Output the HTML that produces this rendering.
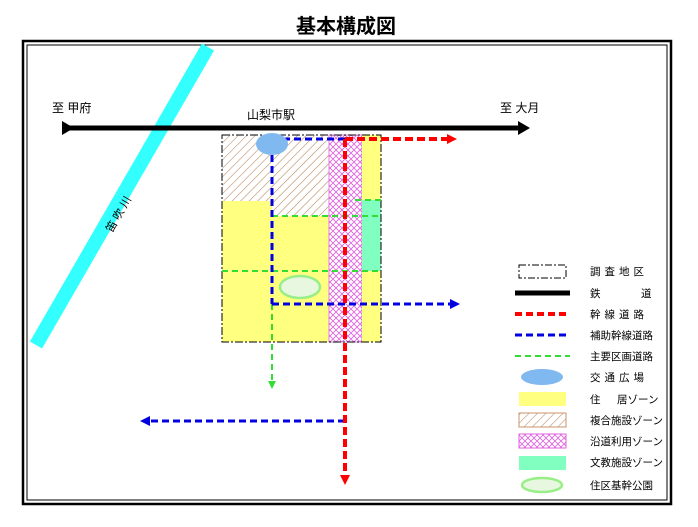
<!DOCTYPE html>
<html><head><meta charset="utf-8"><style>
body{margin:0;background:#fff}
svg text{font-family:"Liberation Sans","Noto Sans CJK JP",sans-serif}
</style></head><body>
<svg width="698" height="522" viewBox="0 0 698 522" xmlns="http://www.w3.org/2000/svg">
<defs>
<pattern id="hatch" width="6" height="6" patternUnits="userSpaceOnUse" patternTransform="rotate(45)">
<rect width="6" height="6" fill="#fff"/><line x1="0" y1="0" x2="0" y2="6" stroke="#b8865e" stroke-width="1.1"/></pattern>
<pattern id="cross" width="6" height="6" patternUnits="userSpaceOnUse">
<rect width="6" height="6" fill="#fff"/><path d="M0 0L6 6M6 0L0 6" stroke="#e060e0" stroke-width="0.8"/></pattern>
<marker id="ar" markerWidth="10" markerHeight="10" refX="5" refY="5" orient="auto" markerUnits="userSpaceOnUse"><path d="M0 0L10 5L0 10z" fill="red"/></marker>
<marker id="ab" markerWidth="10" markerHeight="10" refX="5" refY="5" orient="auto" markerUnits="userSpaceOnUse"><path d="M0 0L10 5L0 10z" fill="#0000e0"/></marker>
<marker id="ag" markerWidth="8" markerHeight="8" refX="4" refY="4" orient="auto" markerUnits="userSpaceOnUse"><path d="M0 0L8 4L0 8z" fill="#33dd33"/></marker>
<marker id="ak" markerWidth="12" markerHeight="14" refX="6" refY="7" orient="auto" markerUnits="userSpaceOnUse"><path d="M0 0L12 7L0 14z" fill="#000"/></marker>
</defs>
<text x="346" y="33" font-size="20" font-weight="bold" text-anchor="middle">基本構成図</text>
<rect x="23" y="41" width="648" height="463" fill="none" stroke="#000" stroke-width="2.5"/>
<rect x="27" y="45" width="640" height="455" fill="none" stroke="#000" stroke-width="1"/>
<line x1="36" y1="345" x2="208" y2="47" stroke="#33ffff" stroke-width="14"/>
<text font-size="11" transform="translate(112,233) rotate(-60)">笛 吹 川</text>
<rect x="222" y="135" width="107" height="66" fill="url(#hatch)"/>
<rect x="272" y="200" width="57" height="16" fill="url(#hatch)"/>
<rect x="222" y="201" width="50" height="141" fill="#ffff80"/>
<rect x="272" y="216" width="57" height="126" fill="#ffff80"/>
<rect x="329" y="135" width="33" height="207" fill="url(#cross)" stroke="#e060e0" stroke-width="0.8"/>
<rect x="362" y="135" width="19" height="65" fill="#ffff80"/>
<rect x="362" y="200" width="19" height="71" fill="#80ffc0"/>
<rect x="362" y="271" width="19" height="71" fill="#ffff80"/>
<rect x="222" y="135" width="159" height="207" fill="none" stroke="#000" stroke-width="1" stroke-dasharray="8,2,2,2"/>
<g stroke="#33dd33" stroke-width="2" stroke-dasharray="6,4" fill="none">
<line x1="272" y1="216" x2="381" y2="216"/>
<line x1="355" y1="200" x2="381" y2="200"/>
<line x1="222" y1="271" x2="381" y2="271"/>
<line x1="272" y1="304" x2="272" y2="385" marker-end="url(#ag)"/>
</g>
<ellipse cx="300" cy="287" rx="20" ry="11" fill="#e8f8e0" stroke="#99ee88" stroke-width="2.5"/>
<line x1="68" y1="128" x2="524" y2="128" stroke="#000" stroke-width="5" marker-start="url(#ak)" marker-end="url(#ak)"/>
<text x="52" y="112" font-size="12">至 甲府</text>
<text x="500" y="112" font-size="12">至 大月</text>
<text x="247" y="119" font-size="12">山梨市駅</text>
<g stroke="#0000e0" stroke-width="3" stroke-dasharray="7,4" fill="none">
<line x1="272" y1="139" x2="345" y2="139"/>
<line x1="272" y1="144" x2="272" y2="304"/>
<line x1="272" y1="304" x2="455" y2="304" marker-end="url(#ab)"/>
<line x1="345" y1="421" x2="145" y2="421" marker-end="url(#ab)"/>
</g>
<g stroke="red" stroke-width="4" stroke-dasharray="8,4" fill="none">
<line x1="345" y1="139" x2="452" y2="139" marker-end="url(#ar)"/>
<line x1="345" y1="139" x2="345" y2="480" marker-end="url(#ar)"/>
</g>
<ellipse cx="272" cy="144" rx="16" ry="11" fill="#80b8f0"/>
<g font-size="10.5">
<rect x="519" y="265" width="47" height="13" fill="none" stroke="#000" stroke-dasharray="7,2,2,2"/>
<text x="590" y="275" letter-spacing="4">調査地区</text>
<line x1="515" y1="293" x2="570" y2="293" stroke="#000" stroke-width="5"/>
<text x="590" y="297">鉄</text><text x="641" y="297">道</text>
<line x1="515" y1="314" x2="570" y2="314" stroke="red" stroke-width="4" stroke-dasharray="7,4"/>
<text x="590" y="318" letter-spacing="4">幹線道路</text>
<line x1="515" y1="335" x2="570" y2="335" stroke="#0000e0" stroke-width="3" stroke-dasharray="7,4"/>
<text x="590" y="339">補助幹線道路</text>
<line x1="515" y1="356" x2="570" y2="356" stroke="#33dd33" stroke-width="2" stroke-dasharray="6,4"/>
<text x="590" y="360">主要区画道路</text>
<ellipse cx="542" cy="377" rx="21" ry="8" fill="#80b8f0"/>
<text x="590" y="381" letter-spacing="4">交通広場</text>
<rect x="519" y="392" width="47" height="14" fill="#ffff80"/>
<text x="590" y="403">住</text><text x="617" y="403">居ゾーン</text>
<rect x="519" y="413" width="47" height="14" fill="url(#hatch)" stroke="#c8966e"/>
<text x="590" y="424">複合施設ゾーン</text>
<rect x="519" y="434" width="47" height="14" fill="url(#cross)" stroke="#e060e0"/>
<text x="590" y="445">沿道利用ゾーン</text>
<rect x="519" y="456" width="47" height="14" fill="#80ffc0"/>
<text x="590" y="466">文教施設ゾーン</text>
<ellipse cx="542" cy="485" rx="20" ry="7" fill="#e8f8e0" stroke="#99ee88" stroke-width="2.5"/>
<text x="590" y="489">住区基幹公園</text>
</g>
</svg>
</body></html>
